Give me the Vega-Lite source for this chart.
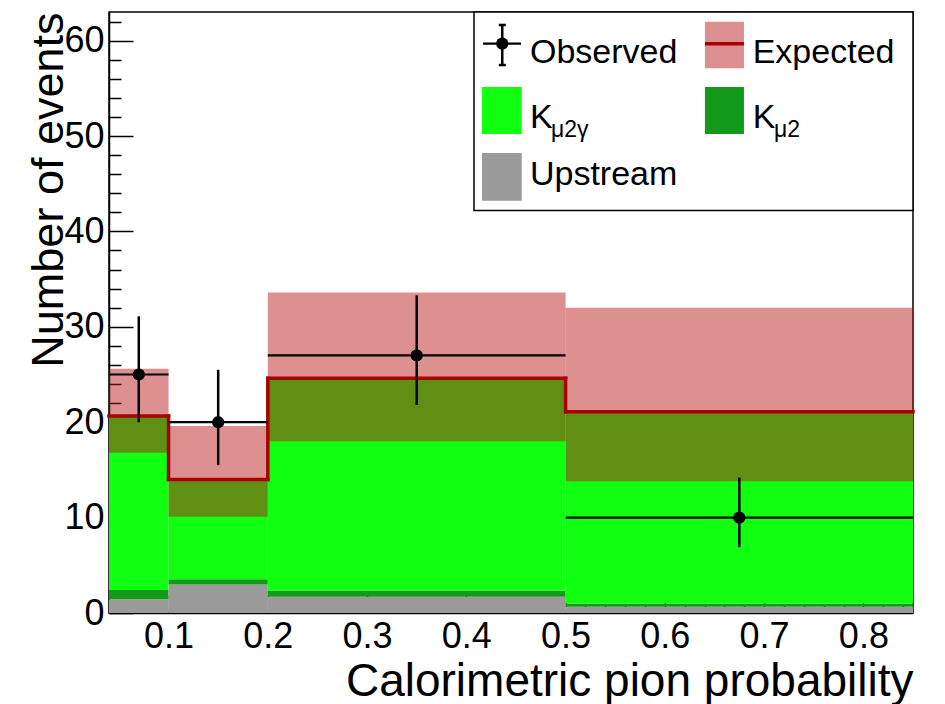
{
  "$schema": "https://vega.github.io/schema/vega-lite/v6.json",
  "width": 804,
  "height": 601,
  "autosize": "none",
  "padding": {"left": 109, "top": 12, "right": 32, "bottom": 91},
  "background": "white",
  "config": {
    "font": "Liberation Sans",
    "view": {"stroke": "black", "strokeWidth": 1.5}
  },
  "resolve": {"axis": {"x": "independent", "y": "independent"}},
  "datasets": {
    "components": [
      {"lo": 0.04, "hi": 0.1, "component": "Upstream", "order": 1, "value": 1.45},
      {"lo": 0.04, "hi": 0.1, "component": "Kmu2", "order": 2, "value": 0.95},
      {"lo": 0.04, "hi": 0.1, "component": "Kmu2gamma", "order": 3, "value": 18.25},
      {"lo": 0.1, "hi": 0.2, "component": "Upstream", "order": 1, "value": 3.0},
      {"lo": 0.1, "hi": 0.2, "component": "Kmu2", "order": 2, "value": 0.55},
      {"lo": 0.1, "hi": 0.2, "component": "Kmu2gamma", "order": 3, "value": 10.45},
      {"lo": 0.2, "hi": 0.5, "component": "Upstream", "order": 1, "value": 1.7},
      {"lo": 0.2, "hi": 0.5, "component": "Kmu2", "order": 2, "value": 0.65},
      {"lo": 0.2, "hi": 0.5, "component": "Kmu2gamma", "order": 3, "value": 22.25},
      {"lo": 0.5, "hi": 0.85, "component": "Upstream", "order": 1, "value": 0.65},
      {"lo": 0.5, "hi": 0.85, "component": "Kmu2", "order": 2, "value": 0.35},
      {"lo": 0.5, "hi": 0.85, "component": "Kmu2gamma", "order": 3, "value": 20.1}
    ],
    "bins": [
      {"lo": 0.04, "hi": 0.1, "center": 0.07, "expLo": 16.8, "expHi": 25.6, "obs": 25, "obsLo": 20.0, "obsHi": 31.1},
      {"lo": 0.1, "hi": 0.2, "center": 0.15, "expLo": 10.1, "expHi": 19.6, "obs": 20, "obsLo": 15.5, "obsHi": 25.5},
      {"lo": 0.2, "hi": 0.5, "center": 0.35, "expLo": 18.0, "expHi": 33.6, "obs": 27, "obsLo": 21.8, "obsHi": 33.3},
      {"lo": 0.5, "hi": 0.85, "center": 0.675, "expLo": 13.8, "expHi": 32.0, "obs": 10, "obsLo": 6.9, "obsHi": 14.2}
    ]
  },
  "layer": [
    {
      "data": {"name": "components"},
      "transform": [
        {"stack": "value", "groupby": ["lo"], "sort": [{"field": "order", "order": "ascending"}], "as": ["y0", "y1"]}
      ],
      "mark": {"type": "rect", "strokeWidth": 0},
      "encoding": {
        "x": {
          "field": "lo", "type": "quantitative",
          "scale": {"domain": [0.04, 0.85], "nice": false, "zero": false},
          "axis": {
            "orient": "bottom",
            "title": "Calorimetric pion probability",
            "values": [0.1, 0.2, 0.3, 0.4, 0.5, 0.6, 0.7, 0.8],
            "format": ".1f",
            "tickSize": -18,
            "tickColor": "black",
            "tickWidth": 1.5,
            "domainColor": "black",
            "domainWidth": 1.5,
            "grid": false,
            "labelFont": "Liberation Sans",
            "labelFontSize": 36,
            "labelColor": "black",
            "labelPadding": 24,
            "labelOverlap": false,
            "labelFlush": false,
            "labelBound": false,
            "titleFont": "Liberation Sans",
            "titleFontSize": 46,
            "titleFontWeight": "normal",
            "titleColor": "black",
            "titleX": 804,
            "titleY": 82,
            "titleAlign": "right",
            "titleBaseline": "alphabetic"
          }
        },
        "x2": {"field": "hi"},
        "y": {
          "field": "y0", "type": "quantitative",
          "scale": {"domain": [0, 63], "nice": false, "zero": false},
          "axis": {
            "orient": "left",
            "title": "Number of events",
            "values": [0, 10, 20, 30, 40, 50, 60],
            "tickSize": -24,
            "tickColor": "black",
            "tickWidth": 1.5,
            "domainColor": "black",
            "domainWidth": 1.5,
            "grid": false,
            "labelFont": "Liberation Sans",
            "labelFontSize": 36,
            "labelColor": "black",
            "labelPadding": 29,
            "labelOverlap": false,
            "labelFlush": false,
            "labelBound": false,
            "titleFont": "Liberation Sans",
            "titleFontSize": 45,
            "titleFontWeight": "normal",
            "titleColor": "black",
            "titleX": -47,
            "titleY": 0,
            "titleAngle": 270,
            "titleAlign": "right",
            "titleBaseline": "alphabetic"
          }
        },
        "y2": {"field": "y1"},
        "color": {
          "field": "component", "type": "nominal",
          "scale": {"domain": ["Upstream", "Kmu2", "Kmu2gamma"], "range": ["#9a9a9a", "#139a1b", "#11ff11"]},
          "legend": null
        }
      }
    },
    {
      "data": {"name": "bins"},
      "mark": {"type": "rect", "fill": "#b81818", "opacity": 0.48, "strokeWidth": 0},
      "encoding": {
        "x": {
          "field": "lo", "type": "quantitative",
          "axis": {
            "orient": "bottom",
            "title": null,
            "values": [0.06, 0.08, 0.12, 0.14, 0.16, 0.18, 0.22, 0.24, 0.26, 0.28, 0.32, 0.34, 0.36, 0.38, 0.42, 0.44, 0.46, 0.48, 0.52, 0.54, 0.56, 0.58, 0.62, 0.64, 0.66, 0.68, 0.72, 0.74, 0.76, 0.78, 0.82, 0.84],
            "labels": false,
            "domain": false,
            "grid": false,
            "tickSize": -9,
            "tickColor": "black",
            "tickWidth": 1.5
          }
        },
        "x2": {"field": "hi"},
        "y": {
          "field": "expLo", "type": "quantitative",
          "axis": {
            "orient": "left",
            "title": null,
            "values": [2, 4, 6, 8, 12, 14, 16, 18, 22, 24, 26, 28, 32, 34, 36, 38, 42, 44, 46, 48, 52, 54, 56, 58, 62],
            "labels": false,
            "domain": false,
            "grid": false,
            "tickSize": -12,
            "tickColor": "black",
            "tickWidth": 1.5
          }
        },
        "y2": {"field": "expHi"}
      }
    },
    {
      "data": {"name": "components"},
      "transform": [
        {"aggregate": [{"op": "sum", "field": "value", "as": "total"}], "groupby": ["lo", "hi"]}
      ],
      "mark": {"type": "rule", "color": "#aa0000", "strokeWidth": 3.5, "strokeCap": "square"},
      "encoding": {
        "x": {"field": "lo", "type": "quantitative", "axis": null},
        "x2": {"field": "hi"},
        "y": {"field": "total", "type": "quantitative", "axis": null}
      }
    },
    {
      "data": {"name": "components"},
      "transform": [
        {"aggregate": [{"op": "sum", "field": "value", "as": "total"}], "groupby": ["lo", "hi"]},
        {"window": [{"op": "lag", "field": "total", "as": "prev"}], "sort": [{"field": "lo", "order": "ascending"}]},
        {"filter": "datum.prev != null"}
      ],
      "mark": {"type": "rule", "color": "#aa0000", "strokeWidth": 3.5, "strokeCap": "square"},
      "encoding": {
        "x": {"field": "lo", "type": "quantitative", "axis": null},
        "y": {"field": "prev", "type": "quantitative", "axis": null},
        "y2": {"field": "total"}
      }
    },
    {
      "data": {"name": "bins"},
      "mark": {"type": "rule", "color": "black", "strokeWidth": 2.5},
      "encoding": {
        "x": {"field": "center", "type": "quantitative", "axis": null},
        "y": {"field": "obsLo", "type": "quantitative", "axis": null},
        "y2": {"field": "obsHi"}
      }
    },
    {
      "data": {"name": "bins"},
      "mark": {"type": "rule", "color": "black", "strokeWidth": 2.2},
      "encoding": {
        "x": {"field": "lo", "type": "quantitative", "axis": null},
        "x2": {"field": "hi"},
        "y": {"field": "obs", "type": "quantitative", "axis": null}
      }
    },
    {
      "data": {"name": "bins"},
      "mark": {"type": "point", "shape": "circle", "filled": true, "color": "black", "opacity": 1, "size": 150},
      "encoding": {
        "x": {"field": "center", "type": "quantitative", "axis": null},
        "y": {"field": "obs", "type": "quantitative", "axis": null}
      }
    },
    {
      "data": {"values": [{}]},
      "layer": [
        {
          "mark": {"type": "rect", "fill": "white", "stroke": "black", "strokeWidth": 1.5},
          "encoding": {
            "x": {"datum": 0.4077, "axis": null}, "x2": {"datum": 0.85},
            "y": {"datum": 42.2, "axis": null}, "y2": {"datum": 63}
          }
        },
        {
          "mark": {"type": "rule", "color": "black", "strokeWidth": 2.2},
          "encoding": {
            "x": {"datum": 0.4168, "axis": null}, "x2": {"datum": 0.4551},
            "y": {"datum": 59.68, "axis": null}
          }
        },
        {
          "mark": {"type": "rule", "color": "black", "strokeWidth": 2.5},
          "encoding": {
            "x": {"datum": 0.4362, "axis": null},
            "y": {"datum": 57.44, "axis": null}, "y2": {"datum": 61.64}
          }
        },
        {
          "mark": {"type": "rule", "color": "black", "strokeWidth": 2.5},
          "encoding": {
            "x": {"datum": 0.4327, "axis": null}, "x2": {"datum": 0.4397},
            "y": {"datum": 61.64, "axis": null}
          }
        },
        {
          "mark": {"type": "rule", "color": "black", "strokeWidth": 2.5},
          "encoding": {
            "x": {"datum": 0.4327, "axis": null}, "x2": {"datum": 0.4397},
            "y": {"datum": 57.44, "axis": null}
          }
        },
        {
          "mark": {"type": "point", "shape": "circle", "filled": true, "color": "black", "opacity": 1, "size": 150},
          "encoding": {
            "x": {"datum": 0.4362, "axis": null},
            "y": {"datum": 59.68, "axis": null}
          }
        },
        {
          "mark": {"type": "rect", "fill": "#b81818", "opacity": 0.48, "strokeWidth": 0},
          "encoding": {
            "x": {"datum": 0.6404, "axis": null}, "x2": {"datum": 0.6797},
            "y": {"datum": 57.1, "axis": null}, "y2": {"datum": 61.98}
          }
        },
        {
          "mark": {"type": "rule", "color": "#aa0000", "strokeWidth": 3.5},
          "encoding": {
            "x": {"datum": 0.6404, "axis": null}, "x2": {"datum": 0.6797},
            "y": {"datum": 59.68, "axis": null}
          }
        },
        {
          "mark": {"type": "rect", "fill": "#11ff11", "strokeWidth": 0},
          "encoding": {
            "x": {"datum": 0.4158, "axis": null}, "x2": {"datum": 0.4558},
            "y": {"datum": 50.21, "axis": null}, "y2": {"datum": 55.14}
          }
        },
        {
          "mark": {"type": "rect", "fill": "#139a1b", "strokeWidth": 0},
          "encoding": {
            "x": {"datum": 0.6404, "axis": null}, "x2": {"datum": 0.6797},
            "y": {"datum": 50.21, "axis": null}, "y2": {"datum": 55.14}
          }
        },
        {
          "mark": {"type": "rect", "fill": "#9a9a9a", "strokeWidth": 0},
          "encoding": {
            "x": {"datum": 0.4158, "axis": null}, "x2": {"datum": 0.4558},
            "y": {"datum": 43.22, "axis": null}, "y2": {"datum": 48.22}
          }
        },
        {
          "mark": {"type": "text", "text": "Observed", "font": "Liberation Sans", "fontSize": 34, "align": "left", "baseline": "alphabetic", "color": "black"},
          "encoding": {"x": {"datum": 0.4641, "axis": null}, "y": {"datum": 57.68, "axis": null}}
        },
        {
          "mark": {"type": "text", "text": "Expected", "font": "Liberation Sans", "fontSize": 34, "align": "left", "baseline": "alphabetic", "color": "black"},
          "encoding": {"x": {"datum": 0.6885, "axis": null}, "y": {"datum": 57.68, "axis": null}}
        },
        {
          "mark": {"type": "text", "text": "K", "font": "Liberation Sans", "fontSize": 34, "align": "left", "baseline": "alphabetic", "color": "black"},
          "encoding": {"x": {"datum": 0.4641, "axis": null}, "y": {"datum": 50.81, "axis": null}}
        },
        {
          "mark": {"type": "text", "text": "μ2γ", "font": "Liberation Sans", "fontSize": 23, "align": "left", "baseline": "alphabetic", "color": "black"},
          "encoding": {"x": {"datum": 0.4853, "axis": null}, "y": {"datum": 49.9, "axis": null}}
        },
        {
          "mark": {"type": "text", "text": "K", "font": "Liberation Sans", "fontSize": 34, "align": "left", "baseline": "alphabetic", "color": "black"},
          "encoding": {"x": {"datum": 0.6885, "axis": null}, "y": {"datum": 50.81, "axis": null}}
        },
        {
          "mark": {"type": "text", "text": "μ2", "font": "Liberation Sans", "fontSize": 23, "align": "left", "baseline": "alphabetic", "color": "black"},
          "encoding": {"x": {"datum": 0.71, "axis": null}, "y": {"datum": 49.9, "axis": null}}
        },
        {
          "mark": {"type": "text", "text": "Upstream", "font": "Liberation Sans", "fontSize": 34, "align": "left", "baseline": "alphabetic", "color": "black"},
          "encoding": {"x": {"datum": 0.4641, "axis": null}, "y": {"datum": 44.86, "axis": null}}
        }
      ]
    }
  ]
}
